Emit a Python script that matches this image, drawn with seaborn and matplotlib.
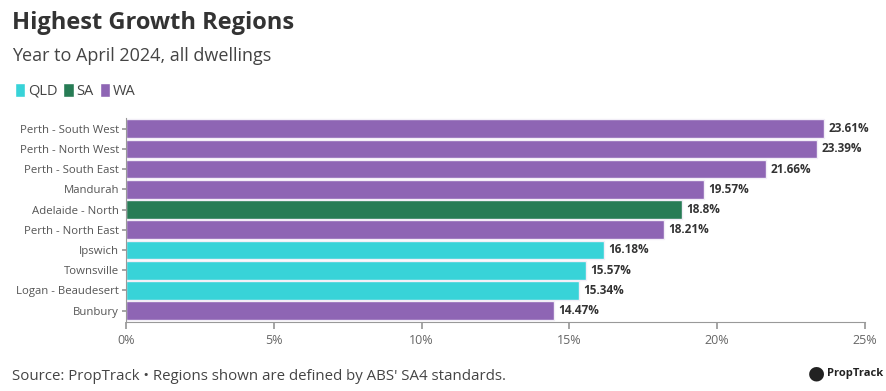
import pandas as pd
import seaborn as sns
import matplotlib.pyplot as plt
from matplotlib.patches import Patch
from matplotlib.ticker import FuncFormatter

regions = ["Perth - South West", "Perth - North West", "Perth - South East", "Mandurah",
           "Adelaide - North", "Perth - North East", "Ipswich", "Townsville",
           "Logan - Beaudesert", "Bunbury"]
states = ["WA", "WA", "WA", "WA", "SA", "WA", "QLD", "QLD", "QLD", "WA"]
growth = [23.61, 23.39, 21.66, 19.57, 18.8, 18.21, 16.18, 15.57, 15.34, 14.47]
xticks = [0, 5, 10, 15, 20, 25]

palette = {"QLD": "#38D3D8", "SA": "#277C55", "WA": "#8E65B4"}
df = pd.DataFrame({"region": regions, "state": states, "growth": growth})

sns.set_theme(style="white")
plt.rcParams["font.family"] = ["Open Sans", "DejaVu Sans"]

fig = plt.figure(figsize=(8.87, 3.91), dpi=100)
ax = fig.add_axes([0.142, 0.177, 0.833, 0.52])

sns.barplot(data=df, x="growth", y="region", hue="state", palette=palette,
            dodge=False, width=0.92, edgecolor="#f2eef7", linewidth=1.0,
            legend=False, ax=ax, saturation=1)

for p in ax.patches:
    w = p.get_width()
    if w > 0:
        ax.text(w + 0.15, p.get_y() + p.get_height() / 2, f"{w:g}%",
                va="center", ha="left", fontsize=8.5, fontweight="bold", color="#333333")

ax.set_xlim(0, 25)
ax.set_ylim(len(regions) - 0.45, -0.5)
ax.set_xticks(xticks)
ax.xaxis.set_major_formatter(FuncFormatter(lambda v, _: f"{v:g}%"))
ax.set_xlabel("")
ax.set_ylabel("")
for s in ["top", "right"]:
    ax.spines[s].set_visible(False)
for s in ["left", "bottom"]:
    ax.spines[s].set_color("#999999")
    ax.spines[s].set_linewidth(0.8)
ax.tick_params(axis="x", bottom=True, length=5, color="#999999", labelsize=9, labelcolor="#666666", pad=4)
ax.tick_params(axis="y", left=True, length=3, color="#999999", labelsize=8.2, labelcolor="#555555", pad=2)

fig.text(0.014, 0.94, "Highest Growth Regions", fontsize=17, fontweight="bold", color="#333333", va="center")
fig.text(0.014, 0.858, "Year to April 2024, all dwellings", fontsize=13, color="#444444", va="center")

handles = [Patch(facecolor=palette[k], label=k) for k in ["QLD", "SA", "WA"]]
fig.legend(handles=handles, loc="center left", bbox_to_anchor=(0.002, 0.768), ncol=3,
           frameon=False, handlelength=0.7, handleheight=1.1, handletextpad=0.2,
           columnspacing=0.4, fontsize=10.5, labelcolor="#444444")

fig.text(0.014, 0.038, "Source: PropTrack \u2022 Regions shown are defined by ABS' SA4 standards.",
         fontsize=10.8, color="#444444", va="center")
fig.text(0.92, 0.045, "\u25CF", fontsize=14, color="#222222", va="center", ha="center")
fig.text(0.932, 0.045, "PropTrack", fontsize=8, fontweight="bold", color="#222222", va="center")

fig.savefig("out.png", dpi=100)
